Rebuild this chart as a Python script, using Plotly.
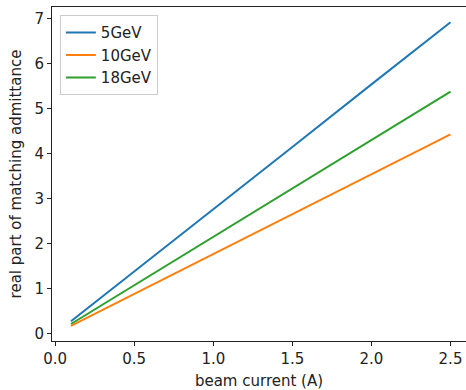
import plotly.graph_objects as go

beam_current = [0.1, 0.5, 1.0, 1.5, 2.0, 2.5]
y_5gev = [0.28, 1.38, 2.77, 4.15, 5.54, 6.92]
y_10gev = [0.18, 0.89, 1.77, 2.66, 3.54, 4.43]
y_18gev = [0.22, 1.08, 2.15, 3.23, 4.30, 5.38]
series_names = ["5GeV", "10GeV", "18GeV"]
colors = ["#1f77b4", "#ff7f0e", "#2ca02c"]

fig = go.Figure()
for name, ys, c in zip(series_names, [y_5gev, y_10gev, y_18gev], colors):
    fig.add_trace(go.Scatter(x=beam_current, y=ys, mode="lines", name=name,
                             line=dict(color=c, width=2)))

FS = 15
axis_common = dict(showgrid=False, zeroline=False, showline=True, linecolor="#222",
                   linewidth=1, ticks="outside", ticklen=4, tickcolor="#222",
                   tickfont=dict(size=FS, color="#222"), automargin=False)

fig.update_layout(
    width=466, height=390,
    margin=dict(l=52, r=0, t=7, b=49),
    paper_bgcolor="white", plot_bgcolor="white",
    font=dict(family="DejaVu Sans", size=FS, color="#222"),
    xaxis=dict(range=[-0.02, 2.598], tickvals=[0, 0.5, 1.0, 1.5, 2.0, 2.5],
               ticktext=["0.0", "0.5", "1.0", "1.5", "2.0", "2.5"], mirror=True,
               title=dict(text="beam current (A)", standoff=8, font=dict(size=FS)),
               **axis_common),
    yaxis=dict(range=[-0.157, 7.257], tickvals=[0, 1, 2, 3, 4, 5, 6, 7], mirror=False,
               title=dict(text="real part of matching admittance", standoff=9, font=dict(size=FS)),
               **axis_common),
    legend=dict(x=0.019, y=0.975, xanchor="left", yanchor="top",
                bgcolor="white", bordercolor="#cccccc", borderwidth=1,
                font=dict(size=FS, color="#222"), tracegroupgap=0, itemwidth=30),
    showlegend=True,
)

fig.write_html("out.html", config={"displayModeBar": False},
               post_script="document.body.style.margin='0';document.body.style.padding='0';")
